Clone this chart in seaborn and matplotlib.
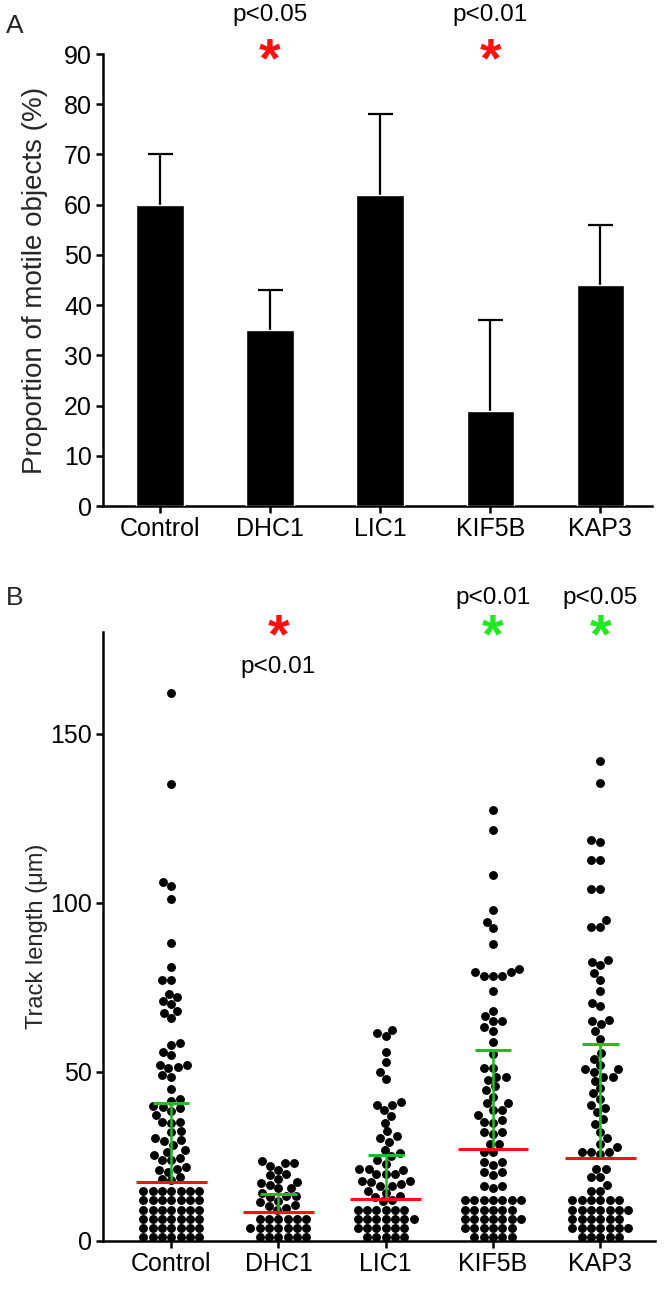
import numpy as np
import pandas as pd
import matplotlib
matplotlib.use("Agg")
import matplotlib.pyplot as plt
import seaborn as sns

# ---------------- data ----------------
categories = ["Control", "DHC1", "LIC1", "KIF5B", "KAP3"]

# Panel A: proportion of motile objects (%)
motile_pct = [60, 35, 62, 19, 44]
motile_err_top = [70, 43, 78, 37, 56]
a_yticks = [0, 10, 20, 30, 40, 50, 60, 70, 80, 90]

# Panel B: track lengths (um)
control_len = [162, 135, 106, 105, 101, 88, 81, 77, 77, 73, 72, 71, 70, 68, 67.5, 66,
               58.5, 58, 56, 55, 52, 52, 51.5, 51, 49, 48.5, 45, 42, 41.5,
               39.8, 39.5, 39.3, 38.4, 37.2, 35.3, 35.3, 35.0, 32.5, 32.3, 30.3, 29.8,
               29.6, 28.5, 26.8, 26.3, 25.3, 24.5, 23.9, 23.9, 21.9, 21.4, 20.9, 20.4,
               18.9, 18.4, 17.9,
               14.7, 14.7, 14.7, 14.7, 14.7, 14.7, 14.7,
               12.0, 12.0, 12.0, 12.0, 12.0, 12.0, 12.0,
               9.3, 9.3, 9.3, 9.3, 9.3, 9.3, 9.3,
               6.6, 6.6, 6.6, 6.6, 6.6, 6.6, 6.6,
               3.9, 3.9, 3.9, 3.9, 3.9, 3.9, 3.9,
               1.2, 1.2, 1.2, 1.2, 1.2, 1.2, 1.2]
dhc1_len = [23.6, 23.0, 23.0, 22.1, 21.1, 19.8, 19.4, 18.4, 17.5, 17.0, 16.6, 15.6, 15.6,
            14.2, 13.3, 13.3, 12.9, 11.9, 11.4, 10.5, 10.2, 9.8, 9.2,
            6.6, 6.6, 6.6, 6.6, 6.6, 6.6,
            3.9, 3.9, 3.9, 3.9, 3.9, 3.9, 3.9,
            1.2, 1.2, 1.2, 1.2, 1.2, 1.2]
lic1_len = [62.4, 61.5, 60.5, 56, 53, 50, 48, 41.2, 40.2, 40.2, 38.8, 37, 35, 32.4, 31,
            30.4, 29.4, 27, 26, 25,
            24, 22.9, 21.2, 21.2, 21, 19.8, 19.8, 19.8, 17.8, 17.8, 17.3, 16.8, 16.3,
            16.3, 14.8, 14.3, 13.4, 13.0, 12.2, 11.8,
            9.3, 9.3, 9.3, 9.3, 9.3, 9.3,
            6.6, 6.6, 6.6, 6.6, 6.6, 6.6, 6.6,
            3.9, 3.9, 3.9, 3.9, 3.9, 3.9,
            1.2, 1.2, 1.2, 1.2, 1.2]
kif5b_len = [127.3, 121.6, 108.2, 97.9, 94.4, 92.4, 87.7, 80.5, 79.4, 79.4, 78.3, 78.3,
             78.3, 73.9, 67.9, 66.5, 65, 65, 63.2, 62.2, 58.8,
             55.2, 51, 51, 48.4, 48.4, 47.5, 45.7, 44.5, 42.7, 40.7, 40.7, 38.7, 38.7,
             37.3, 35.7, 35.2, 35, 32.3, 32.3, 31.5, 28.8, 28.8,
             26.3, 26.3, 23.4, 23.4, 22.4, 20.4, 20.4, 19.4, 16.4, 16.4, 15.6,
             12.0, 12.0, 12.0, 12.0, 12.0, 12.0, 12.0,
             9.3, 9.3, 9.3, 9.3, 9.3, 9.3,
             6.6, 6.6, 6.6, 6.6, 6.6, 6.6, 6.6,
             3.9, 3.9, 3.9, 3.9, 3.9, 3.9,
             1.2, 1.2, 1.2, 1.2, 1.2]
kap3_len = [141.9, 135.5, 118.4, 117.9, 112.7, 112.7, 104, 104, 94.8, 92.7, 92.7, 83,
            82.5, 81.5, 79.1, 77.1, 73.9, 70.4, 69.4, 65.4, 64.9, 64.1, 62, 59.8,
            55.5, 53.9, 52, 50.8, 50.8, 49.9, 48.6, 48.6, 47.3, 45.1, 43.6, 42, 40.2,
            39.3, 38.1, 36.1, 34.5, 32.3, 30.5, 28.8, 27.9, 26.3, 26.3, 26.3, 25.8,
            21.4, 21.4, 19, 19, 16.6, 14.8, 14.8,
            12.0, 12.0, 12.0, 12.0, 12.0, 12.0,
            9.3, 9.3, 9.3, 9.3, 9.3, 9.3, 9.3,
            6.6, 6.6, 6.6, 6.6, 6.6, 6.6,
            3.9, 3.9, 3.9, 3.9, 3.9, 3.9, 3.9,
            1.2, 1.2, 1.2, 1.2, 1.2]
b_yticks = [0, 50, 100, 150]

median_len = [17.5, 8.5, 12.5, 27.1, 24.4]
upper_len = [40.8, 13.8, 25.4, 56.5, 58.2]

sigA_cats = ["DHC1", "KIF5B"]
sigA_text = ["p<0.05", "p<0.01"]
sigB_cats = ["DHC1", "KIF5B", "KAP3"]
sigB_text = ["p<0.01", "p<0.01", "p<0.05"]
sigB_color = ["#ff1010", "#22e822", "#22e822"]
sigB_above = [False, True, True]

# ---------------- style ----------------
sns.set_theme(style="ticks")
plt.rcParams["font.family"] = ["Liberation Sans", "DejaVu Sans"]
plt.rcParams["axes.linewidth"] = 1.8

W, H = 664, 1292
fig = plt.figure(figsize=(W / 100, H / 100), dpi=100)

ax_left = 103
A_right, B_right = 652, 655
A_top, A_bot = 54, 506
B_top, B_bot = 632, 1241
XL_A = (-0.518, 4.47)
XL_B = (-0.636, 4.51)

axA = fig.add_axes([ax_left / W, 1 - A_bot / H, (A_right - ax_left) / W, (A_bot - A_top) / H])
axB = fig.add_axes([ax_left / W, 1 - B_bot / H, (B_right - ax_left) / W, (B_bot - B_top) / H])

TICK_FS = 18

# ---------------- panel A ----------------
dfA = pd.DataFrame({"group": categories, "pct": motile_pct, "top": motile_err_top})
sns.barplot(data=dfA, x="group", y="pct", order=categories, color="black",
            saturation=1, width=0.43, errorbar=None, ax=axA, zorder=3)
xpos = np.arange(len(categories))
errs = np.array(motile_err_top) - np.array(motile_pct)
eb = axA.errorbar(xpos, motile_pct, yerr=[np.zeros(len(errs)), errs], fmt="none",
                  ecolor="black", elinewidth=1.6, capsize=9, capthick=1.6, zorder=2)
eb[1][0].set_visible(False)  # hide the lower cap (sits on the bar top)
axA.set_ylim(0, 90)
axA.set_xlim(*XL_A)
axA.set_yticks(a_yticks)
axA.set_ylabel("Proportion of motile objects (%)", fontsize=20)
axA.set_xlabel("")
axA.yaxis.set_label_coords(-0.10, 0.5)

for c, t in zip(sigA_cats, sigA_text):
    i = categories.index(c)
    axA.text(i, 85.5, "*", color="#ff1010", fontsize=40, fontweight="bold",
             ha="center", va="baseline", clip_on=False)
    axA.text(i, 97.8, t, color="black", fontsize=17.5, ha="center", va="center", clip_on=False)

# ---------------- panel B ----------------
lens = [control_len, dhc1_len, lic1_len, kif5b_len, kap3_len]
dfB = pd.DataFrame({
    "group": np.concatenate([[c] * len(v) for c, v in zip(categories, lens)]),
    "length": np.concatenate([np.asarray(v, float) for v in lens]),
})
axB.set_ylim(0, 180)
axB.set_xlim(*XL_B)
sns.swarmplot(data=dfB, x="group", y="length", order=categories, color="black",
              size=6.4, ax=axB, zorder=2, warn_thresh=1.0, clip_on=False)
axB.set_ylim(0, 180)
axB.set_xlim(*XL_B)
for i in range(len(categories)):
    axB.vlines(i, median_len[i], upper_len[i], color="#22bb22", lw=1.8, zorder=4)
    axB.hlines(upper_len[i], i - 0.17, i + 0.17, color="#22bb22", lw=2.2, zorder=4)
    axB.hlines(median_len[i], i - 0.33, i + 0.33, color="#ff1010", lw=2.2, zorder=5)
axB.set_yticks(b_yticks)
axB.set_ylabel("Track length (μm)", fontsize=17)
axB.set_xlabel("")
axB.yaxis.set_label_coords(-0.10, 0.5)

for c, t, col, above in zip(sigB_cats, sigB_text, sigB_color, sigB_above):
    i = categories.index(c)
    axB.text(i, 174.0, "*", color=col, fontsize=40, fontweight="bold",
             ha="center", va="baseline", clip_on=False)
    axB.text(i, 190.1 if above else 169.8, t, color="black", fontsize=17.5,
             ha="center", va="center", clip_on=False)

for ax in (axA, axB):
    sns.despine(ax=ax)
    ax.tick_params(axis="both", labelsize=TICK_FS, length=5, width=1.8, color="black",
                   labelcolor="black", pad=3)
    for s in ("left", "bottom"):
        ax.spines[s].set_color("black")
        ax.spines[s].set_linewidth(1.8)

fig.text(15 / W, 1 - 26 / H, "A", fontsize=19, ha="center", va="center")
fig.text(15 / W, 1 - 598 / H, "B", fontsize=19, ha="center", va="center")

fig.savefig("out.png", dpi=100)
